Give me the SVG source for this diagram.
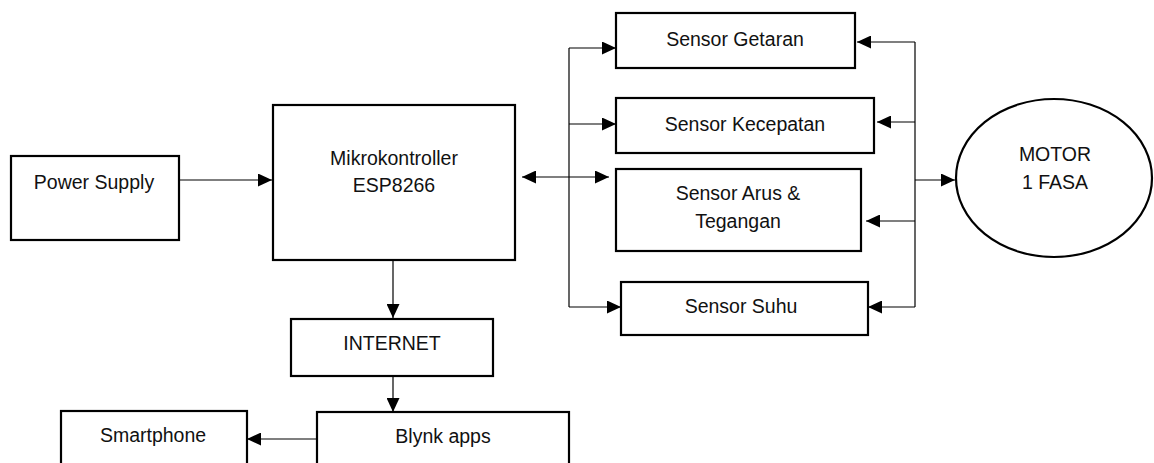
<svg xmlns="http://www.w3.org/2000/svg" width="1154" height="463" viewBox="0 0 1154 463">
  <style>
    .box { fill: #fff; stroke: #000; stroke-width: 2.2; }
    .lbl { font-family: "Liberation Sans", Arial, sans-serif; font-size: 19.5px; fill: #111; text-anchor: middle; }
    .wire { fill: none; stroke: #000; stroke-width: 1.2; }
  </style>
  <defs>
    <marker id="head" markerUnits="userSpaceOnUse" markerWidth="14" markerHeight="13" refX="14" refY="6.5" orient="auto-start-reverse">
      <path d="M0,0 L14,6.5 L0,13 Z" fill="#000"/>
    </marker>
  </defs>

  <!-- connectors -->
  <g id="connectors">
    <line class="wire" x1="179" y1="180" x2="272" y2="180" marker-end="url(#head)"/>
    <line class="wire" x1="393" y1="260" x2="393" y2="318" marker-end="url(#head)"/>
    <line class="wire" x1="393" y1="376" x2="393" y2="412" marker-end="url(#head)"/>
    <line class="wire" x1="317" y1="439" x2="247" y2="439" marker-end="url(#head)"/>
    <!-- controller to sensor bus -->
    <line class="wire" x1="522" y1="177" x2="609" y2="177" marker-start="url(#head)" marker-end="url(#head)"/>
    <line class="wire" x1="569" y1="48" x2="569" y2="307"/>
    <line class="wire" x1="569" y1="48" x2="616" y2="48" marker-end="url(#head)"/>
    <line class="wire" x1="569" y1="124" x2="616" y2="124" marker-end="url(#head)"/>
    <line class="wire" x1="569" y1="307" x2="621" y2="307" marker-end="url(#head)"/>
    <!-- motor bus -->
    <line class="wire" x1="915" y1="42" x2="915" y2="307"/>
    <line class="wire" x1="915" y1="42" x2="857" y2="42" marker-end="url(#head)"/>
    <line class="wire" x1="915" y1="122" x2="877" y2="122" marker-end="url(#head)"/>
    <line class="wire" x1="915" y1="221" x2="866" y2="221" marker-end="url(#head)"/>
    <line class="wire" x1="915" y1="307" x2="868" y2="307" marker-end="url(#head)"/>
    <line class="wire" x1="915" y1="180" x2="955" y2="180" marker-end="url(#head)"/>
  </g>

  <g id="power-supply">
    <rect class="box" x="11" y="156" width="168" height="84"/>
    <text class="lbl" x="94" y="189">Power Supply</text>
  </g>

  <g id="mikrokontroller">
    <rect class="box" x="273" y="105" width="242" height="155"/>
    <text class="lbl" x="394" y="165">Mikrokontroller</text>
    <text class="lbl" x="394" y="192">ESP8266</text>
  </g>

  <g id="internet">
    <rect class="box" x="291" y="319" width="202" height="57"/>
    <text class="lbl" x="392" y="350">INTERNET</text>
  </g>

  <g id="blynk">
    <rect class="box" x="317" y="412" width="252" height="70"/>
    <text class="lbl" x="443" y="443">Blynk apps</text>
  </g>

  <g id="smartphone">
    <rect class="box" x="61" y="411" width="186" height="70"/>
    <text class="lbl" x="153" y="442">Smartphone</text>
  </g>

  <g id="sensor-getaran">
    <rect class="box" x="616" y="13" width="239" height="55"/>
    <text class="lbl" x="735" y="46">Sensor Getaran</text>
  </g>

  <g id="sensor-kecepatan">
    <rect class="box" x="616" y="98" width="258" height="55"/>
    <text class="lbl" x="745" y="131">Sensor Kecepatan</text>
  </g>

  <g id="sensor-arus">
    <rect class="box" x="616" y="169" width="245" height="82"/>
    <text class="lbl" x="738" y="200">Sensor Arus &amp;</text>
    <text class="lbl" x="738" y="228">Tegangan</text>
  </g>

  <g id="sensor-suhu">
    <rect class="box" x="621" y="282" width="247" height="53"/>
    <text class="lbl" x="741" y="313">Sensor Suhu</text>
  </g>

  <g id="motor">
    <ellipse class="box" cx="1054" cy="178" rx="98" ry="79"/>
    <text class="lbl" x="1055" y="161">MOTOR</text>
    <text class="lbl" x="1055" y="189">1 FASA</text>
  </g>
</svg>
